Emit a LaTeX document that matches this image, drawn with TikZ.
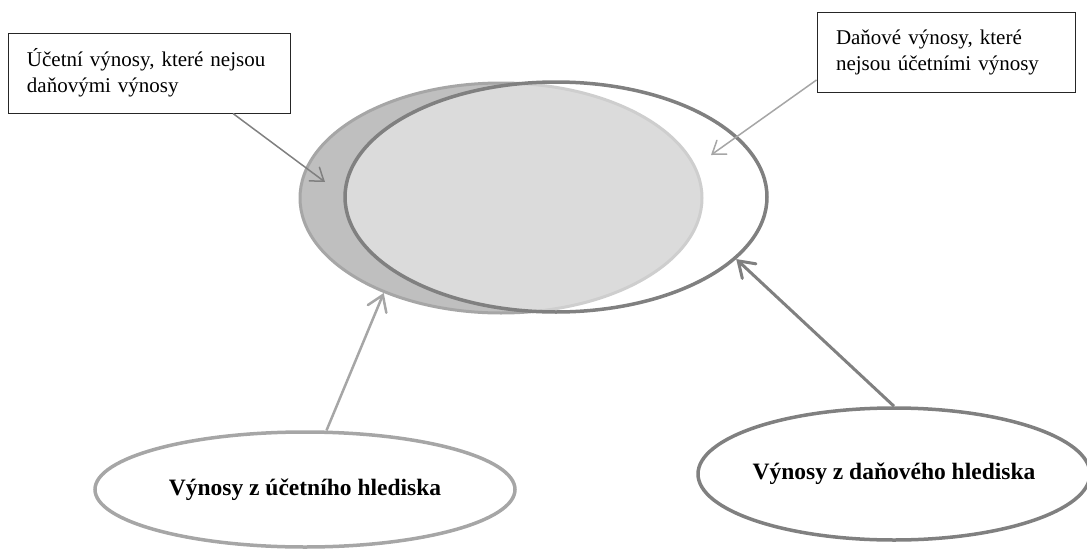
\documentclass[tikz,border=0pt]{standalone}
\usepackage{fontspec}
\setmainfont{Liberation Serif}
\usepackage{xcolor}
\usepackage{tikz}
\usetikzlibrary{shapes.geometric,arrows.meta,positioning}
\definecolor{lightline}{HTML}{A6A6A6}
\definecolor{darkline}{HTML}{808080}
\definecolor{crescent}{HTML}{BFBFBF}
\tikzset{>={Straight Barb[length=15pt,width=20pt,line cap=round]}}
\tikzset{note box/.style={draw=black!85,line width=1pt,align=left,inner xsep=19pt,minimum height=80pt,
                          font=\fontsize{21}{26}\selectfont},
            set node/.style={ellipse,inner sep=0pt,line width=3pt},
            view node/.style={ellipse,fill=white,inner sep=0pt,line width=3.5pt,
                              font=\fontsize{23.5}{28}\selectfont\bfseries},
            small tip/.style={-{Straight Barb[length=12pt,width=17pt,line cap=round]}},
            }

\begin{document}
\begin{tikzpicture}[x=1pt,y=-1pt]
    \useasboundingbox (0,0) rectangle (1087,549);

    % two sets of revenues
    \node[set node,draw=lightline,fill=crescent,minimum width=402pt,minimum height=230pt] (accset) at (501,198) {};
    \node[set node,draw=darkline,fill=white,fill opacity=0.45,draw opacity=1,line width=3.5pt,
          minimum width=422pt,minimum height=230pt] (taxset) at (556,197) {};

    % notes
    \node[note box,text width=244pt] (accnote) at (149,73) {Účetní výnosy, které nejsou\\daňovými výnosy};
    \node[note box,text width=220pt] (taxnote) at (946,52.5) {Daňové výnosy, které\\nejsou účetními výnosy};

    % points of view
    \node[view node,draw=lightline,minimum width=420pt,minimum height=115pt] (accview) at (305,489.5)
        {\makebox[0pt]{Výnosy z účetního hlediska}};
    \node[view node,draw=darkline,minimum width=392pt,minimum height=132pt] (taxview) at (894,474)
        {\makebox[0pt]{Výnosy z daňového hlediska}};

    \coordinate (accpart) at (325,182);
    \coordinate (taxpart) at (711,155);

    \path[draw,lightline,line width=2.5pt]
    (accview.70) edge[->] (accset.219);
    \path[draw,darkline,line width=3pt]
    (taxview.north) edge[->] (taxset.-19);

    \path[draw,darkline,line width=1.5pt]
    ([xshift=84pt]accnote.south) edge[small tip] (accpart);
    \path[draw,lightline,line width=1.5pt]
    ([yshift=13pt]taxnote.south west) edge[small tip] (taxpart);

\end{tikzpicture}
\end{document}
